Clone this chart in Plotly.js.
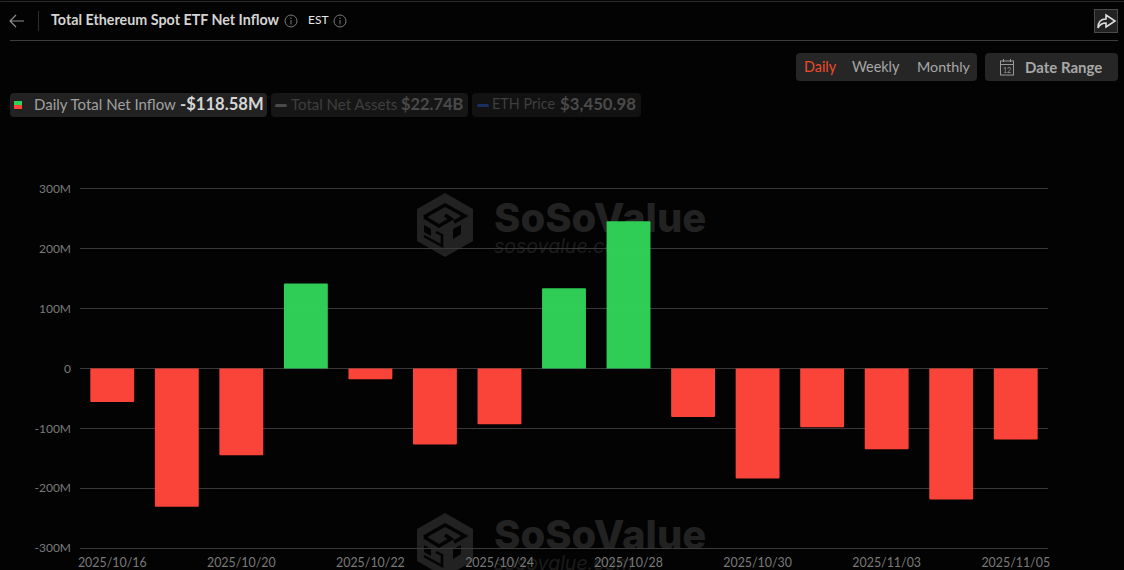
<!DOCTYPE html>
<html><head><meta charset="utf-8">
<script src="https://cdn.plot.ly/plotly-3.0.1.min.js"></script>
<style>
html,body{margin:0;padding:0;background:#030303;overflow:hidden;width:1124px;height:570px;font-family:Lato,sans-serif}
#chart{position:absolute;left:0;top:0;width:1124px;height:570px}
#wm{position:absolute;left:0;top:0}
.t{position:absolute;white-space:nowrap;line-height:1}
.box{position:absolute;border-radius:4px}
svg.i{position:absolute}
</style></head><body>
<svg id="wm" width="1124" height="570"></svg>
<div id="chart"></div>
<div class="box" style="left:0;top:1px;width:1124px;height:1px;background:#2a2a2a"></div>
<svg class="i" style="left:8px;top:13px" width="18" height="16"><path d="M16 8H2M8 2L2 8L8 14" stroke="#8f8f8f" stroke-width="1.2" fill="none"/></svg>
<div class="box" style="left:38px;top:11px;width:1px;height:20px;background:#2e2e2e;border-radius:0"></div>
<div class="t" style="left:51px;top:13px;font-size:14.3px;font-weight:700;color:#d4d4d4">Total Ethereum Spot ETF Net Inflow</div>
<svg class="i" style="left:284px;top:14px" width="14" height="14"><circle cx="7" cy="7" r="6" stroke="#777" fill="none"/><path d="M7 6V10.5M7 3.5V5" stroke="#777"/></svg>
<div class="t" style="left:308px;top:14px;font-size:12px;color:#e8e8e8">EST</div>
<svg class="i" style="left:333px;top:14px" width="14" height="14"><circle cx="7" cy="7" r="6" stroke="#777" fill="none"/><path d="M7 6V10.5M7 3.5V5" stroke="#777"/></svg>
<div class="box" style="left:10px;top:40px;width:1108px;height:1px;background:#3d3d3d;border-radius:0"></div>
<div class="box" style="left:1094px;top:9px;width:24px;height:24px;background:#222;border:1px solid #4a4a4a;border-radius:0;box-sizing:border-box"></div>
<svg class="i" style="left:1095px;top:10px" width="22" height="22"><path d="M3 18C3 12 6 9 11 9V5L20 11L11 17V13C7 13 5 14 3 18Z" stroke="#ddd" stroke-width="1.6" fill="none"/></svg>

<div class="box" style="left:796px;top:53px;width:181px;height:28px;background:#262626"></div>
<div class="t" style="left:804px;top:60px;font-size:14.4px;color:#f04a2c">Daily</div>
<div class="t" style="left:852px;top:60px;font-size:14.4px;color:#a8a8a8">Weekly</div>
<div class="t" style="left:917px;top:60px;font-size:14.3px;color:#a8a8a8">Monthly</div>
<div class="box" style="left:985px;top:53px;width:133px;height:28px;background:#262626"></div>
<svg class="i" style="left:999px;top:58px" width="16" height="18"><rect x="1.5" y="3" width="13" height="14" fill="none" stroke="#999"/><path d="M1.5 6.5H14.5M4.5 1V4M11.5 1V4" stroke="#999"/><text x="8" y="15" font-size="7" fill="#999" text-anchor="middle" font-family="Lato">12</text></svg>
<div class="t" style="left:1025px;top:60px;font-size:15px;font-weight:700;color:#a8a8a8">Date Range</div>

<div class="box" style="left:10px;top:93px;width:257px;height:24px;background:#222"></div>
<div class="box" style="left:14px;top:101px;width:8px;height:4px;background:#30d158;border-radius:0"></div>
<div class="box" style="left:14px;top:105px;width:8px;height:4px;background:#ff453a;border-radius:0"></div>
<div class="t" style="left:34px;top:97px;font-size:15px;color:#a0a0a0">Daily Total Net Inflow</div>
<div class="t" style="left:180px;top:96px;font-size:16.6px;font-weight:700;color:#d6d6d6">-$118.58M</div>
<div class="box" style="left:271px;top:93px;width:197px;height:24px;background:#161616"></div>
<div class="box" style="left:275px;top:104px;width:12px;height:3px;background:#4a4a4a;border-radius:2px"></div>
<div class="t" style="left:291px;top:97px;font-size:15px;color:#3f3f3f">Total Net Assets</div>
<div class="t" style="left:401px;top:96px;font-size:16.4px;font-weight:700;color:#4a4a4a">$22.74B</div>
<div class="box" style="left:472px;top:93px;width:169px;height:24px;background:#121212"></div>
<div class="box" style="left:477px;top:104px;width:12px;height:3px;background:#1b2f5e;border-radius:2px"></div>
<div class="t" style="left:492px;top:97px;font-size:14.4px;color:#3f3f3f">ETH Price</div>
<div class="t" style="left:560px;top:96px;font-size:16.8px;font-weight:700;color:#4a4a4a">$3,450.98</div>

<script>
const dates = ["2025/10/16","2025/10/17","2025/10/20","2025/10/21","2025/10/22","2025/10/23","2025/10/24","2025/10/27","2025/10/28","2025/10/29","2025/10/30","2025/10/31","2025/11/03","2025/11/04","2025/11/05"];
const netInflow = [-56,-231,-145,142,-18,-127,-93,134,246,-81,-184,-98,-135,-219,-118.58];
const tickDates = ["2025/10/16","2025/10/20","2025/10/22","2025/10/24","2025/10/28","2025/10/30","2025/11/03","2025/11/05"];
const yTicks = [-300,-200,-100,0,100,200,300];
const yLabels = ["-300M","-200M","-100M","0","100M","200M","300M"];

const W=1124,H=570,L=80,R=1048,T=189,B=548.5;
const wm="#222222", bg="#030303";
function logoSvg(cx,cy){
  const g=(pts,attrs)=>`<polygon points="${pts.map(q=>(cx+q[0])+","+(cy+q[1])).join(" ")}" ${attrs}/>`;
  const l=(pts,w)=>`<polyline points="${pts.map(q=>(cx+q[0])+","+(cy+q[1])).join(" ")}" fill="none" stroke="${bg}" stroke-width="${w}"/>`;
  return g([[0,-32],[28,-16],[28,16],[0,32],[-28,16],[-28,-16]],`fill="${wm}"`)
    +l([[-21,-8],[0,-20],[20,-9],[9,-3]],3.5)
    +l([[-21,-8],[-6,1],[6,-6],[0,-10]],3.5)
    +g([[-21,0],[-14,4],[-14,11],[-21,7]],`fill="${bg}"`)
    +l([[-9,7],[-3,10],[-3,21],[-21,11]],2.5)
    +g([[8,4],[16,0],[16,9],[8,14]],`fill="${bg}"`);
}
function wmSvg(x,y,big){
  return big
   ? `<text x="${x}" y="${y}" font-family="Inter" font-weight="800" font-size="40" fill="#222">SoSoValue</text>`
   : `<text x="${x}" y="${y}" font-family="Inter" font-style="italic" font-size="19.5" fill="#1c1c1c">sosovalue.com</text>`;
}
document.getElementById("wm").innerHTML=logoSvg(445,225)+logoSvg(445,545)+wmSvg(494,232,true)+wmSvg(494,253,false)+wmSvg(494,549,true)+wmSvg(494,570,false);

const data=[{type:"bar",x:dates,y:netInflow,
  marker:{color:netInflow.map(v=>v>=0?"#30d158":"#ff453a"),opacity:0.98,cornerradius:1,line:{width:0}},
  hoverinfo:"x+y"}];
const layout={
  width:W,height:H,margin:{l:L,r:W-R,t:T,b:H-B,pad:0},
  paper_bgcolor:"rgba(0,0,0,0)",plot_bgcolor:"rgba(0,0,0,0)",
  bargap:0.32,showlegend:false,
  font:{family:"Lato, sans-serif",color:"#7a7a7a",size:12},
  xaxis:{type:"category",categoryorder:"array",categoryarray:dates,tickmode:"array",tickvals:tickDates,ticktext:tickDates,
    showgrid:false,zeroline:false,showline:true,mirror:true,linecolor:"#3a3a3a",linewidth:1,ticks:"",tickangle:0,tickfont:{size:12.4,color:"#7a7a7a"},automargin:false,ticklabelstandoff:3},
  yaxis:{range:[-300,300],tickmode:"array",tickvals:yTicks,ticktext:yLabels,gridcolor:"#3a3a3a",gridwidth:1,
    zeroline:true,zerolinecolor:"#3a3a3a",zerolinewidth:1,showline:false,ticks:"",tickfont:{size:12,color:"#7a7a7a"},automargin:false,ticklabelstandoff:8}
};
Plotly.newPlot("chart",data,layout,{displayModeBar:false,responsive:false});
</script>
</body></html>
